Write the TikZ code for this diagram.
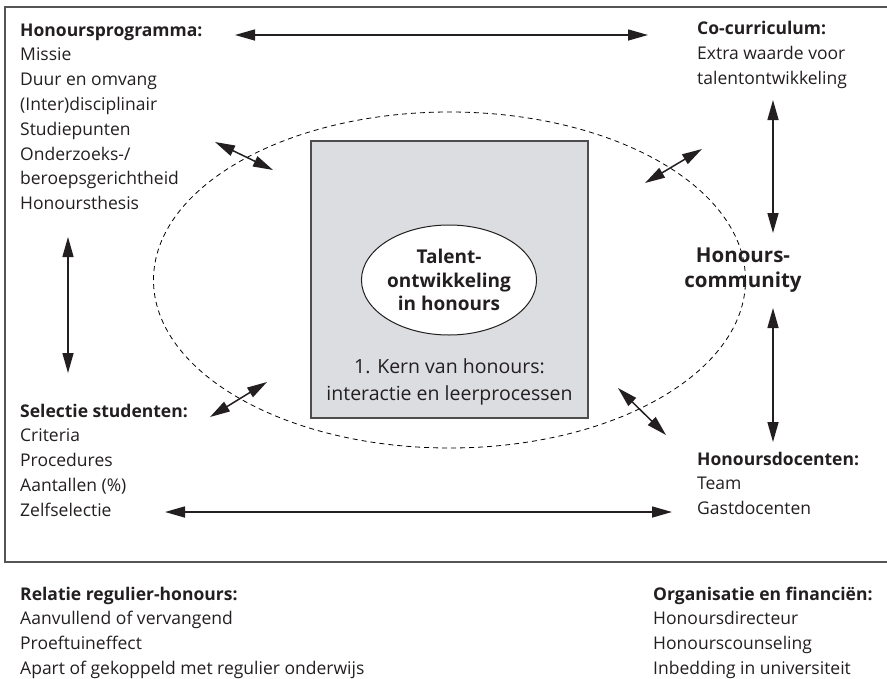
\documentclass[tikz,border=0pt]{standalone}
\usepackage{fontspec}
\setmainfont{Open Sans}
\usetikzlibrary{positioning,arrows.meta,shapes.geometric}
\definecolor{kerngrey}{HTML}{DCDDE0}
\definecolor{inkgrey}{HTML}{231F20}
\definecolor{framegrey}{HTML}{555555}

\begin{document}
\begin{tikzpicture}[x=1pt, y=-1pt, line join=miter, text=inkgrey,
  block/.style={anchor=north west, align=left, inner sep=0pt, font=\fontsize{17.5}{24.8}\selectfont},
  link/.style={{Triangle[length=20pt,width=11pt]}-{Triangle[length=20pt,width=11pt]}, line width=1.5pt, draw=inkgrey},
  kern/.style={rectangle, draw=inkgrey!80, line width=1.1pt, fill=kerngrey, minimum width=277pt, minimum height=277pt},
  talent/.style={ellipse, draw=inkgrey, line width=1pt, fill=white, minimum width=172pt, minimum height=110pt, inner sep=0pt, align=center, font=\fontsize{19}{23.5}\selectfont\bfseries}]
  \useasboundingbox (0,0) rectangle (887,678);
  % frame round the upper part
  \draw[framegrey, line width=1.2pt] (5,7) rectangle (895,562);
  % community
  \draw[dashed, dash pattern=on 5pt off 4pt, line width=0.8pt] (449.5,280) ellipse [x radius=296pt, y radius=168pt];
  \node[kern] (kern) at (449.5,279.5) {};
  \node[talent] (talent) at (449,280) {Talent-\\ontwikkeling\\in honours};
  \node[align=center, inner sep=0pt, font=\fontsize{19.5}{27}\selectfont, above=13pt of kern.south] (kernlbl) {1. Kern van honours:\\interactie en leerprocessen};
  \node[align=center, inner sep=0pt, font=\fontsize{20.5}{25}\selectfont\bfseries] (comm) at (743,270.5) {Honours-\\community};

  % the five building blocks
  \node[block] (prog) at (20,23.5) {\textbf{Honoursprogramma:}\\Missie\\Duur en omvang\\(Inter)disciplinair\\Studiepunten\\Onderzoeks-/\\beroepsgerichtheid\\Honoursthesis};
  \node[block] (cocur) at (697,21) {\textbf{Co-curriculum:}\\Extra waarde voor\\talentontwikkeling};
  \node[block] (select) at (20,403.5) {\textbf{Selectie studenten:}\\Criteria\\Procedures\\Aantallen (\%)\\Zelfselectie};
  \node[block] (docent) at (697,451.5) {\textbf{Honoursdocenten:}\\Team\\Gastdocenten};
  \node[block] (relatie) at (20,586.5) {\textbf{Relatie regulier-honours:}\\Aanvullend of vervangend\\Proeftuineffect\\Apart of gekoppeld met regulier onderwijs};
  \node[block] (organ) at (653,586.5) {\textbf{Organisatie en financiën:}\\Honoursdirecteur\\Honourscounseling\\Inbedding in universiteit};

  % arrow ends
  \coordinate (pc-l) at (235,35);  \coordinate (pc-r) at (648,35);
  \coordinate (cc-t) at (773,100); \coordinate (cc-b) at (773,233);
  \coordinate (cd-t) at (773,308); \coordinate (cd-b) at (773,442);
  \coordinate (ps-t) at (68,237);  \coordinate (ps-b) at (68,373);
  \coordinate (sd-l) at (165,512); \coordinate (sd-r) at (672,512);
  \coordinate (pk-a) at (215,142); \coordinate (pk-b) at (273,170);
  \coordinate (ck-a) at (645,183); \coordinate (ck-b) at (702,149);
  \coordinate (sk-a) at (210,417); \coordinate (sk-b) at (267,382);
  \coordinate (dk-a) at (618,388); \coordinate (dk-b) at (666,435);

  \draw[link] (pc-l) -- (pc-r);
  \draw[link] (cc-t) -- (cc-b);
  \draw[link] (cd-t) -- (cd-b);
  \draw[link] (ps-t) -- (ps-b);
  \draw[link] (sd-l) -- (sd-r);
  \draw[link] (pk-a) -- (pk-b);
  \draw[link] (ck-a) -- (ck-b);
  \draw[link] (sk-a) -- (sk-b);
  \draw[link] (dk-a) -- (dk-b);
\end{tikzpicture}
\end{document}
